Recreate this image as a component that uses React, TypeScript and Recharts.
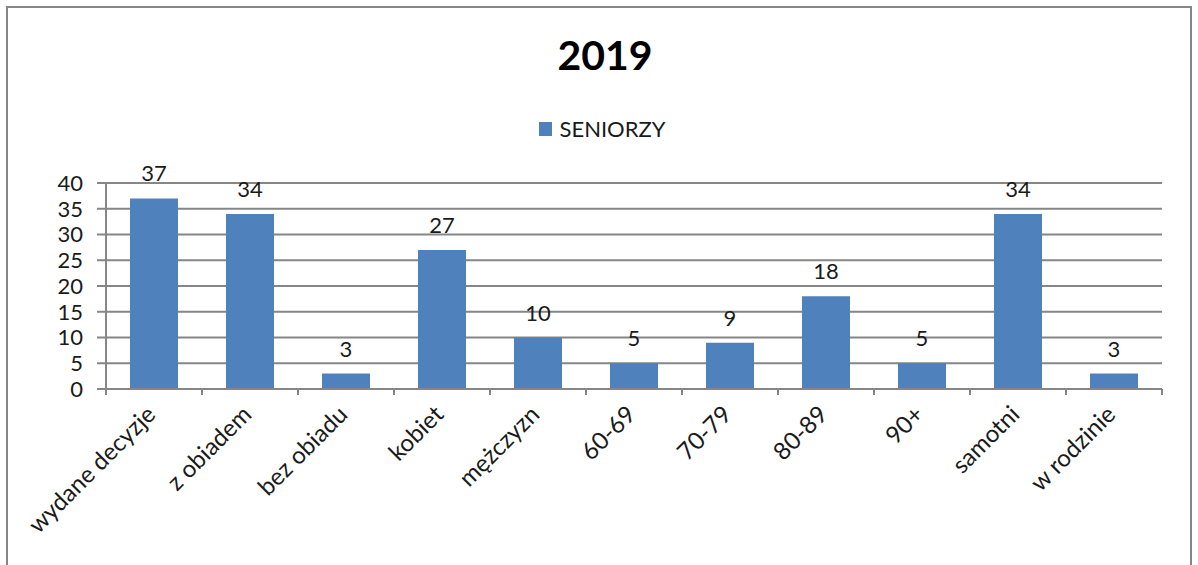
import React from 'react';
import { BarChart, Bar, XAxis, YAxis, CartesianGrid, Legend, LabelList } from 'recharts';

const categories = ['wydane decyzje', 'z obiadem', 'bez obiadu', 'kobiet', 'mężczyzn', '60-69', '70-79', '80-89', '90+', 'samotni', 'w rodzinie'];
const seniorzy = [37, 34, 3, 27, 10, 5, 9, 18, 5, 34, 3];
const yTicks = [0, 5, 10, 15, 20, 25, 30, 35, 40];
const title = '2019';
const seriesName = 'SENIORZY';

const data = categories.map((c, i) => ({ name: c, SENIORZY: seniorzy[i] }));

const FONT = 'Lato, "Open Sans", sans-serif';
const BLUE = '#4F81BD';
const GRID = '#868686';

const W = 1198;
const H = 565;
const LEFT = 106;
const RIGHT = 1162;
const BAND = (RIGHT - LEFT) / categories.length;

const XTick = (props: any) => {
  const { x, y, payload, index } = props;
  const last = index === categories.length - 1;
  const ax = x + 3;
  const ay = y + 19;
  return (
    <g>
      <line x1={x - BAND / 2} x2={x - BAND / 2} y1={y - 8} y2={y - 2} stroke={GRID} strokeWidth={2} />
      {last && <line x1={x + BAND / 2} x2={x + BAND / 2} y1={y - 8} y2={y - 2} stroke={GRID} strokeWidth={2} />}
      <text
        x={ax}
        y={ay}
        textAnchor="end"
        transform={`rotate(-45, ${ax}, ${ay})`}
        fontSize={24}
        fontFamily={FONT}
        fill="#1a1a1a"
      >
        {payload.value}
      </text>
    </g>
  );
};

const LegendContent = () => (
  <div style={{ display: 'flex', justifyContent: 'center', alignItems: 'center', fontFamily: FONT, fontSize: 22, color: '#1a1a1a' }}>
    <span style={{ display: 'inline-block', width: 13, height: 14, background: BLUE, marginRight: 8, marginLeft: 6 }} />
    <span>{seriesName}</span>
  </div>
);

export default function App() {
  return (
    <div style={{ position: 'absolute', left: 0, top: 0, width: W, height: H, background: '#fff', overflow: 'hidden' }}>
      <div
        style={{
          position: 'absolute',
          left: 6,
          top: 6,
          width: 1186,
          height: 700,
          border: `2px solid ${GRID}`,
          boxSizing: 'border-box',
        }}
      />
      <div
        style={{
          position: 'absolute',
          left: 6,
          top: 30,
          width: W,
          textAlign: 'center',
          fontFamily: FONT,
          fontWeight: 700,
          fontSize: 41,
          color: '#000',
        }}
      >
        {title}
      </div>
      <div style={{ position: 'absolute', left: 0, top: 0 }}>
        <BarChart width={W} height={H} data={data} margin={{ top: 183, right: W - RIGHT, bottom: 0, left: 0 }} barCategoryGap="25%">
          <CartesianGrid vertical={false} stroke={GRID} strokeWidth={2} />
          <XAxis
            dataKey="name"
            interval={0}
            height={H - 389}
            tickLine={false}
            axisLine={{ stroke: GRID, strokeWidth: 2 }}
            tick={<XTick />}
          />
          <YAxis
            width={LEFT}
            domain={[0, 40]}
            ticks={yTicks}
            interval={0}
            tickLine={{ stroke: GRID, strokeWidth: 2 }}
            tickSize={9}
            axisLine={{ stroke: GRID, strokeWidth: 2 }}
            tick={{ fontSize: 22, fontFamily: FONT, fill: '#1a1a1a' }}
            tickMargin={14}
          />
          <Legend verticalAlign="middle" align="center" content={<LegendContent />} wrapperStyle={{ top: 115, left: 0, width: W }} />
          <Bar dataKey="SENIORZY" name={seriesName} fill={BLUE} isAnimationActive={false}>
            <LabelList dataKey="SENIORZY" position="top" offset={17} fontSize={22} fontFamily={FONT} fill="#1a1a1a" />
          </Bar>
        </BarChart>
      </div>
    </div>
  );
}
